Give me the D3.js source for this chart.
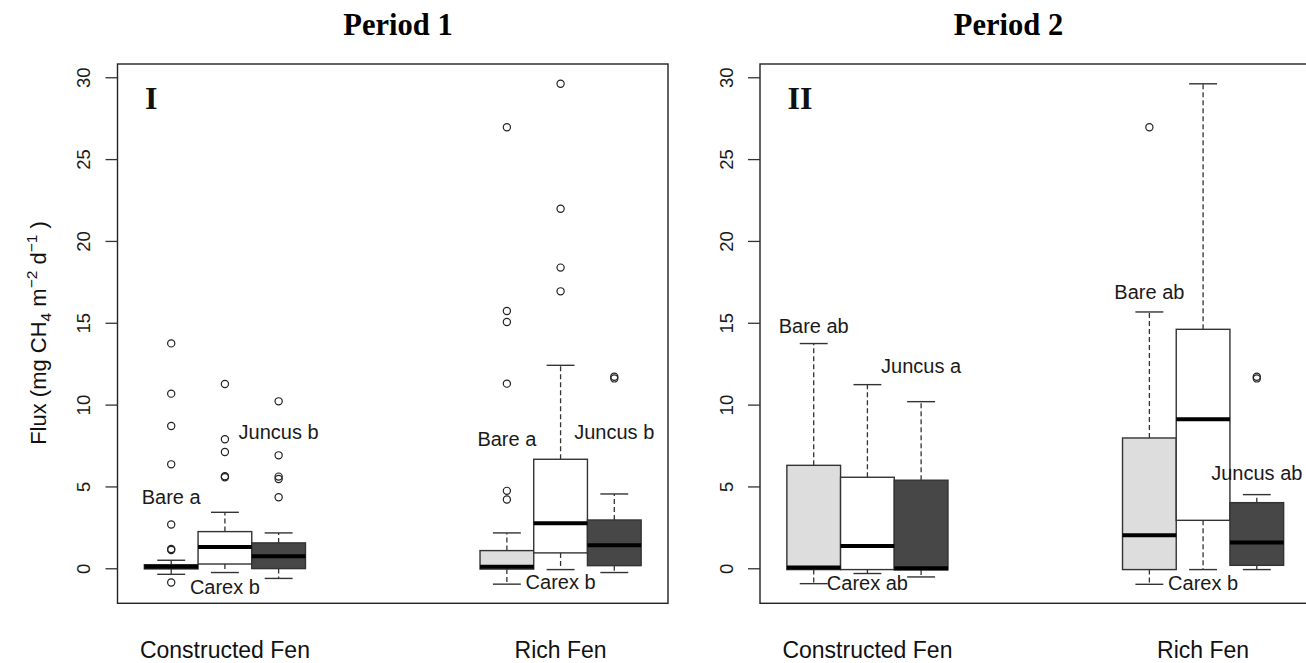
<!DOCTYPE html>
<html><head><meta charset="utf-8">
<script src="https://cdn.jsdelivr.net/npm/d3@7"></script>
<style>body{margin:0;background:#fff;overflow:hidden}svg{display:block}</style>
</head><body>
<script>
// ---- data ----
const sites = ["Constructed Fen", "Rich Fen"];
const species = ["Bare", "Carex", "Juncus"];
const yTicks = [0, 5, 10, 15, 20, 25, 30];
const periods = ["Period 1", "Period 2"];
const panelTags = ["I", "II"];

// order: CF Bare, CF Carex, CF Juncus, RF Bare, RF Carex, RF Juncus
const p1Min    = [-0.37, -0.26, -0.62, -0.97, -0.08, -0.26];
const p1Q1     = [-0.04,  0.26, -0.02, -0.05,  0.94,  0.16];
const p1Median = [ 0.09,  1.30,  0.73,  0.09,  2.75,  1.40];
const p1Q3     = [ 0.22,  2.24,  1.55,  1.08,  6.66,  2.95];
const p1Max    = [ 0.49,  3.42,  2.16,  2.16, 12.40,  4.54];
const p1Outliers = [
  [13.74, 10.67, 8.69, 6.35, 2.67, 1.18, 1.12, -0.87],
  [11.26, 7.88, 7.10, 5.62, 5.56],
  [10.20, 6.90, 5.60, 5.45, 4.34],
  [26.95, 15.72, 15.05, 11.28, 4.73, 4.20],
  [29.60, 21.97, 18.37, 16.92],
  [11.70, 11.60]
];
const p1Labels = ["Bare a", "Carex b", "Juncus b", "Bare a", "Carex b", "Juncus b"];
const p1LabelY = [3.93, -1.57, 7.90, 7.49, -1.26, 7.90];

const p2Min    = [-0.94, -0.32, -0.53, -0.98, -0.08, -0.08];
const p2Q1     = [-0.08, -0.08, -0.10, -0.08,  2.93,  0.18];
const p2Median = [ 0.05,  1.36,  0.00,  2.02,  9.10,  1.57];
const p2Q3     = [ 6.29,  5.56,  5.38,  7.96, 14.60,  4.01];
const p2Max    = [13.73, 11.22, 10.18, 15.66, 29.60,  4.50];
const p2Outliers = [[], [], [], [26.95], [], [11.70, 11.60]];
const p2Labels = ["Bare ab", "Carex ab", "Juncus a", "Bare ab", "Carex b", "Juncus ab"];
const p2LabelY = [14.39, -1.33, 11.91, 16.45, -1.33, 5.40];

// ---- layout / style ----
const W = 1306, H = 663;
const boxPos = [1, 2, 3, 7.25, 8.25, 9.25];
const siteCenter = [2, 8.25];
const fills = ["#dddddd", "#ffffff", "#474747"];
const panelLeft = [117.5, 760];
const panelW = 550.5, frameTop = 64, frameBottom = 603.3;
const titleX = [398, 1008.5];
const sans = "'Liberation Sans', Arial, sans-serif";
const serif = "'Liberation Serif', 'Times New Roman', serif";

const svg = d3.select("body").append("svg").attr("width", W).attr("height", H);
const y = d3.scaleLinear().domain([-2.14, 30.81]).range([frameBottom, frameTop]);

const panelData = [
  {min: p1Min, q1: p1Q1, med: p1Median, q3: p1Q3, max: p1Max, out: p1Outliers, lab: p1Labels, labY: p1LabelY},
  {min: p2Min, q1: p2Q1, med: p2Median, q3: p2Q3, max: p2Max, out: p2Outliers, lab: p2Labels, labY: p2LabelY}
];

panelData.forEach((pd, pi) => {
  const L = panelLeft[pi];
  const x = d3.scaleLinear().domain([0, 10.25]).range([L, L + panelW]);
  const bw = x(1) - x(0);
  const g = svg.append("g");
  const rows = boxPos.map((p, i) => ({
    p, i, min: pd.min[i], q1: pd.q1[i], med: pd.med[i], q3: pd.q3[i], max: pd.max[i],
    out: pd.out[i], fill: fills[i % 3]
  }));

  // whiskers
  g.selectAll(".wh").data(rows).join("g").each(function(d) {
    const s = d3.select(this);
    const cx = x(d.p);
    s.append("line").attr("x1", cx).attr("x2", cx).attr("y1", y(d.q3)).attr("y2", y(d.max))
      .attr("stroke", "#333").attr("stroke-width", 1.3).attr("stroke-dasharray", "5,3");
    s.append("line").attr("x1", cx).attr("x2", cx).attr("y1", y(d.q1)).attr("y2", y(d.min))
      .attr("stroke", "#333").attr("stroke-width", 1.3).attr("stroke-dasharray", "5,3");
    s.append("line").attr("x1", cx - bw * 0.26).attr("x2", cx + bw * 0.26).attr("y1", y(d.max)).attr("y2", y(d.max))
      .attr("stroke", "#333").attr("stroke-width", 1.4);
    s.append("line").attr("x1", cx - bw * 0.26).attr("x2", cx + bw * 0.26).attr("y1", y(d.min)).attr("y2", y(d.min))
      .attr("stroke", "#333").attr("stroke-width", 1.4);
  });
  // boxes
  g.selectAll(".bx").data(rows).join("rect")
    .attr("x", d => x(d.p - 0.5)).attr("width", bw)
    .attr("y", d => y(d.q3)).attr("height", d => Math.max(0.5, y(d.q1) - y(d.q3)))
    .attr("fill", d => d.fill).attr("stroke", "#333").attr("stroke-width", 1.4);
  // medians
  g.selectAll(".md").data(rows).join("line")
    .attr("x1", d => x(d.p - 0.5)).attr("x2", d => x(d.p + 0.5))
    .attr("y1", d => y(d.med)).attr("y2", d => y(d.med))
    .attr("stroke", "#000").attr("stroke-width", 4);
  // outliers
  rows.forEach(d => {
    g.selectAll(null).data(d.out).join("circle")
      .attr("cx", x(d.p)).attr("cy", v => y(v)).attr("r", 3.6)
      .attr("fill", "none").attr("stroke", "#222").attr("stroke-width", 1.2);
  });
  // annotations
  g.selectAll(".lab").data(rows).join("text")
    .attr("x", d => x(d.p)).attr("y", d => y(pd.labY[d.i]))
    .attr("text-anchor", "middle").attr("font-family", sans).attr("font-size", 20)
    .attr("fill", "#1a1a1a").text(d => pd.lab[d.i]);

  // frame
  g.append("rect").attr("x", L).attr("y", frameTop).attr("width", panelW).attr("height", frameBottom - frameTop)
    .attr("fill", "none").attr("stroke", "#222").attr("stroke-width", 1.4);

  // y axis
  const ax = g.append("g").attr("transform", `translate(${L},0)`)
    .call(d3.axisLeft(y).tickValues(yTicks).tickSize(12).tickSizeOuter(0).tickFormat(d3.format("d")));
  ax.select(".domain").remove();
  ax.selectAll(".tick line").attr("stroke", "#333").attr("stroke-width", 1.3);
  ax.selectAll(".tick text")
    .attr("transform", "rotate(-90)").attr("x", 0).attr("y", -27.5).attr("dy", 0)
    .attr("text-anchor", "middle").attr("font-family", sans).attr("font-size", 18.5).attr("fill", "#1a1a1a");

  // x group labels
  g.selectAll(".site").data(sites).join("text")
    .attr("x", (d, i) => x(siteCenter[i])).attr("y", 658)
    .attr("text-anchor", "middle").attr("font-family", sans).attr("font-size", 23)
    .attr("fill", "#111").text(d => d);

  // panel tag
  g.append("text").attr("x", L + 27.5).attr("y", 109).attr("font-family", serif)
    .attr("font-weight", "bold").attr("font-size", 32).attr("fill", "#111").text(panelTags[pi]);

  // title
  svg.append("text").attr("x", titleX[pi]).attr("y", 35).attr("text-anchor", "middle")
    .attr("font-family", serif).attr("font-weight", "bold").attr("font-size", 30.5)
    .attr("fill", "#000").text(periods[pi]);
});

// y axis title
const yt = svg.append("text").attr("transform", "translate(46,333) rotate(-90)")
  .attr("text-anchor", "middle").attr("font-family", sans).attr("font-size", 22).attr("fill", "#111");
yt.append("tspan").text("Flux (mg CH");
yt.append("tspan").attr("font-size", 15.5).attr("dy", 5).text("4");
yt.append("tspan").attr("dy", -5).text(" m");
yt.append("tspan").attr("font-size", 15.5).attr("dy", -9.5).text("\u22122");
yt.append("tspan").attr("dy", 9.5).text(" d");
yt.append("tspan").attr("font-size", 15.5).attr("dy", -9.5).text("\u22121");
yt.append("tspan").attr("dy", 9.5).text(" )");
</script>
</body></html>
